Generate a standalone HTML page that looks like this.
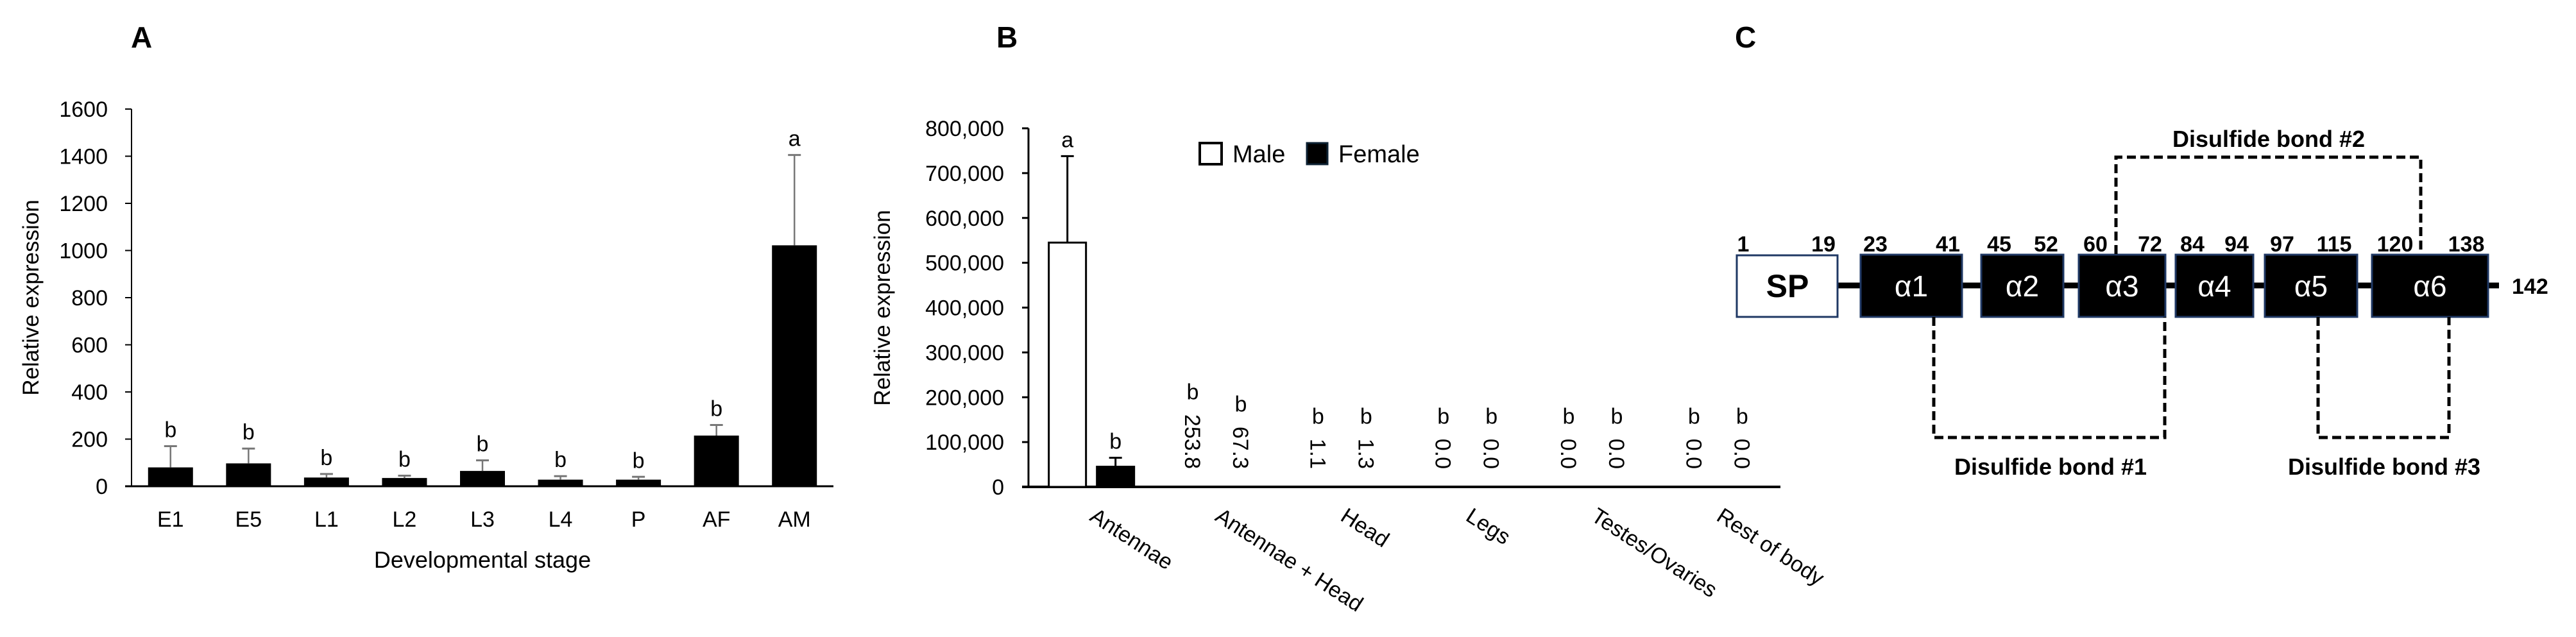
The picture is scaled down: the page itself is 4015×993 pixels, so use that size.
<!DOCTYPE html>
<html><head><meta charset="utf-8"><style>
html,body{margin:0;padding:0;background:#fff;}
svg{display:block;font-family:"Liberation Sans",sans-serif;}
</style></head><body>
<svg id="fig" width="4015" height="993" viewBox="0 0 4015 993" xmlns="http://www.w3.org/2000/svg">
<rect width="4015" height="993" fill="#fff"/>
<g id="panelA"></g>
<g id="panelB"></g>
<g id="panelC"></g>
</svg>
<script>
const NS="http://www.w3.org/2000/svg";
// Panel A data
const stagesA=["E1","E5","L1","L2","L3","L4","P","AF","AM"];
const valuesA=[80,97,37,35,65,28,28,215,1022];
const errA=[170,160,52,45,110,43,40,260,1405];
const lettersA=["b","b","b","b","b","b","b","b","a"];
const ticksA=[0,200,400,600,800,1000,1200,1400,1600];
// Panel B data
const tissuesB=["Antennae","Antennae + Head","Head","Legs","Testes/Ovaries","Rest of body"];
const maleB=[545000,253.8,1.1,0,0,0];
const femaleB=[45000,67.3,1.3,0,0,0];
const maleErrB=[738000,null,null,null,null,null];
const femaleErrB=[65000,null,null,null,null,null];
const maleLetB=["a","b","b","b","b","b"];
const femaleLetB=["b","b","b","b","b","b"];
const ticksB=[0,100000,200000,300000,400000,500000,600000,700000,800000];

function el(tag,attrs,parent,text){const e=document.createElementNS(NS,tag);for(const k in attrs)e.setAttribute(k,attrs[k]);if(text!==undefined)e.textContent=text;parent.appendChild(e);return e;}

// ---------- Panel A ----------
(function(){
const g=document.getElementById('panelA');
const x0=205,x1=1299,y0=758,yTop=170,max=1600;
const yA=v=>y0-(v/max)*(y0-yTop);
const bw=(x1-x0)/stagesA.length;
const xA=i=>x0+bw*(i+0.5);
let t=el('text',{x:204,y:74,'font-size':46,'font-weight':'bold'},g,'A');


let ax=el('line',{x1:x0,y1:yTop,x2:x0,y2:y0,stroke:'#000','stroke-width':2},g);


ticksA.forEach(v=>{
 el('line',{x1:x0-10,y1:yA(v),x2:x0,y2:yA(v),stroke:'#000','stroke-width':2},g);
 const tl=el('text',{x:168,y:yA(v)+12,'font-size':34,'text-anchor':'end'},g,String(v));
 
 
});
let xl=el('line',{x1:x0-10,y1:y0,x2:x1,y2:y0,stroke:'#000','stroke-width':3},g);


stagesA.forEach((s,i)=>{
 const cx=xA(i);
 const b=el('rect',{x:cx-35,y:yA(valuesA[i]),width:70,height:y0-yA(valuesA[i]),fill:'#000'},g);
 
 
 el('line',{x1:cx,y1:yA(valuesA[i]),x2:cx,y2:yA(errA[i]),stroke:'#777','stroke-width':2.5},g);
 el('line',{x1:cx-10,y1:yA(errA[i]),x2:cx+10,y2:yA(errA[i]),stroke:'#777','stroke-width':3},g);
 const lt=el('text',{x:cx,y:yA(errA[i])-14,'font-size':34,'text-anchor':'middle'},g,lettersA[i]);
 
 
 const xt=el('text',{x:cx,y:821,'font-size':34,'text-anchor':'middle'},g,s);
 
 
});
t=el('text',{x:752,y:885,'font-size':36,'text-anchor':'middle'},g,'Developmental stage');


t=el('text',{x:0,y:0,'font-size':35,'text-anchor':'middle',transform:'translate(60,464) rotate(-90)'},g,'Relative expression');


})();

// ---------- Panel B ----------
(function(){
const g=document.getElementById('panelB');
const x0=1603,x1=2775,y0=759,yTop=200,max=800000;
const yB=v=>y0-(v/max)*(y0-yTop);
const cw=(x1-x0)/tissuesB.length;
const xB=i=>x0+cw*(i+0.5);
let t=el('text',{x:1553,y:74,'font-size':46,'font-weight':'bold'},g,'B');


let ax=el('line',{x1:x0,y1:yTop,x2:x0,y2:y0,stroke:'#000','stroke-width':3},g);


ticksB.forEach(v=>{
 el('line',{x1:x0-10,y1:yB(v),x2:x0,y2:yB(v),stroke:'#000','stroke-width':3},g);
 const tl=el('text',{x:1565,y:yB(v)+12,'font-size':34,'text-anchor':'end'},g,v.toLocaleString('en-US'));
 
 
});
let xl=el('line',{x1:x0-10,y1:y0,x2:x1,y2:y0,stroke:'#000','stroke-width':4},g);


function series(vals,errs,lets,off,fill,name){
 vals.forEach((v,i)=>{
  const cx=xB(i)+off;
  const h=y0-yB(v);
  let top=yB(v);
  if(h>3){
   const b=el('rect',{x:cx-29,y:yB(v),width:58,height:h,fill:fill,stroke:'#000','stroke-width':3},g);
   
   
  }
  if(errs[i]!=null){
   el('line',{x1:cx,y1:yB(v),x2:cx,y2:yB(errs[i]),stroke:'#000','stroke-width':3},g);
   el('line',{x1:cx-10,y1:yB(errs[i]),x2:cx+10,y2:yB(errs[i]),stroke:'#000','stroke-width':3},g);
   top=yB(errs[i]);
  }
  if(h>3){
   const lt=el('text',{x:cx,y:top-14,'font-size':34,'text-anchor':'middle'},g,lets[i]);
   
   
  } else {
   const label=v.toFixed(1);
   const vt=el('text',{x:0,y:0,'font-size':34,'text-anchor':'end',transform:'translate('+(cx-12)+',731) rotate(90)'},g,label);
   
   
   const len=label.length*18.9;
   const lt=el('text',{x:cx,y:731-len-14,'font-size':34,'text-anchor':'middle'},g,lets[i]);
   
   
  }
 });
}
series(maleB,maleErrB,maleLetB,-37,'#fff','male');
series(femaleB,femaleErrB,femaleLetB,38,'#000','female');
tissuesB.forEach((s,i)=>{
 const xt=el('text',{x:0,y:0,'font-size':34,transform:'translate('+(xB(i)-4)+',810) rotate(33)'},g,s);
 
 
});
let r=el('rect',{x:1870,y:223,width:34,height:33,fill:'#fff',stroke:'#000','stroke-width':4},g);


t=el('text',{x:1921,y:253,'font-size':38},g,'Male');


r=el('rect',{x:2037,y:223,width:32,height:33,fill:'#000',stroke:'#0d2233','stroke-width':3},g);


t=el('text',{x:2086,y:253,'font-size':38},g,'Female');


t=el('text',{x:0,y:0,'font-size':35,'text-anchor':'middle',transform:'translate(1387,480) rotate(-90)'},g,'Relative expression');


})();

// ---------- Panel C ----------
(function(){
const g=document.getElementById('panelC');
let t=el('text',{x:2704,y:74,'font-size':46,'font-weight':'bold'},g,'C');


let l=el('line',{x1:2864,y1:445,x2:3895,y2:445,stroke:'#000','stroke-width':9},g);


let r=el('rect',{x:2707,y:398,width:157,height:96,fill:'#fff',stroke:'#1f3864','stroke-width':3},g);


t=el('text',{x:2786,y:463,'font-size':50,'font-weight':'bold','text-anchor':'middle'},g,'SP');


const helices=[[2900,3058,'α1'],[3088,3216,'α2'],[3240,3375,'α3'],[3391,3512,'α4'],[3530,3674,'α5'],[3697,3878,'α6']];
helices.forEach(h=>{
 const rr=el('rect',{x:h[0],y:397,width:h[1]-h[0],height:97,fill:'#000',stroke:'#1f3864','stroke-width':3},g);
 
 
 const tt=el('text',{x:(h[0]+h[1])/2,y:462,'font-size':46,fill:'#fff','text-anchor':'middle'},g,h[2]);
 
 
});
const nums=[[2717,'1'],[2842,'19'],[2923,'23'],[3036,'41'],[3116,'45'],[3189,'52'],[3266,'60'],[3351,'72'],[3417,'84'],[3486,'94'],[3557,'97'],[3638,'115'],[3733,'120'],[3844,'138']];
nums.forEach(n=>{
 const tt=el('text',{x:n[0],y:392,'font-size':34,'font-weight':'bold','text-anchor':'middle'},g,n[1]);
 
 
});
t=el('text',{x:3915,y:458,'font-size':34,'font-weight':'bold'},g,'142');


const ds={fill:'none',stroke:'#000','stroke-width':5,'stroke-dasharray':'14 7'};
let p=el('path',Object.assign({d:'M3298 396 V245 H3773 V396'},ds),g);


p=el('path',Object.assign({d:'M3014 494 V682 H3374 V494'},ds),g);


p=el('path',Object.assign({d:'M3613 494 V682 H3817 V494'},ds),g);


t=el('text',{x:3536,y:229,'font-size':36,'font-weight':'bold','text-anchor':'middle'},g,'Disulfide bond #2');


t=el('text',{x:3196,y:740,'font-size':36,'font-weight':'bold','text-anchor':'middle'},g,'Disulfide bond #1');


t=el('text',{x:3716,y:740,'font-size':36,'font-weight':'bold','text-anchor':'middle'},g,'Disulfide bond #3');


})();
</script>
</body></html>
